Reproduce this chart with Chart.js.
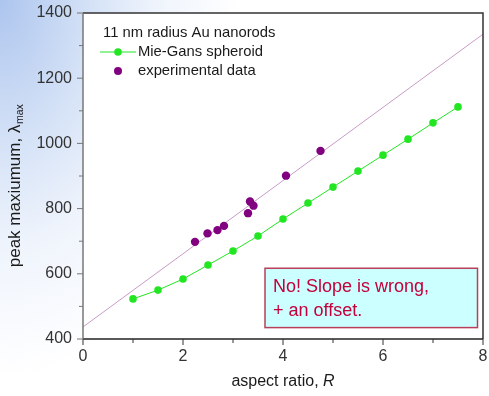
<!DOCTYPE html>
<html>
<head>
<meta charset="utf-8">
<script src="https://cdn.jsdelivr.net/npm/chart.js@4"></script>
<style>
  html,body{margin:0;padding:0;}
  body{width:489px;height:396px;overflow:hidden;
    background: radial-gradient(ellipse 240px 380px at 0px 0px, #adc5ee 0%, #d2e0f6 35%, #eff4fc 65%, #ffffff 100%);}
  canvas{display:block;}
</style>
</head>
<body>
<canvas id="c" width="489" height="396"></canvas>
<script>
// ---- data ----
const mieGansR     = [1, 1.5, 2, 2.5, 3, 3.5, 4, 4.5, 5, 5.5, 6, 6.5, 7, 7.5];
const mieGansPeak  = [523, 550, 584, 627, 670, 716, 768, 817, 866, 915, 964, 1013, 1063, 1112];
const expR         = [2.24, 2.49, 2.69, 2.82, 3.30, 3.34, 3.41, 4.06, 4.75];
const expPeak      = [698, 724, 734, 747, 786, 822, 809, 901, 977];
const fitR         = [0, 8];
const fitPeak      = [437, 1335];
const xTicks       = [0, 2, 4, 6, 8];
const yTicks       = [400, 600, 800, 1000, 1200, 1400];
const legendTitle  = '11 nm radius Au nanorods';
const legendLabels = ['Mie-Gans spheroid', 'experimental data'];
const noteLines    = ['No! Slope is wrong,', '+ an offset.'];
const noteBox      = {x0: 3.64, x1: 7.89, y0: 617, y1: 435};

const toXY = (xs, ys) => xs.map((x, i) => ({x: x, y: ys[i]}));
const GREEN = '#22e622', PURPLE = '#800080', FITC = '#c79cc7';
const FONT = 'Arial, "Liberation Sans", sans-serif';

const decor = {
  id: 'decor',
  beforeDraw(chart) {
    const {ctx, chartArea: a} = chart;
    ctx.save();
    ctx.fillStyle = '#ffffff';
    ctx.fillRect(a.left, a.top, a.right - a.left, a.bottom - a.top);
    ctx.restore();
  },
  afterDraw(chart) {
    const {ctx, chartArea: a, scales} = chart;
    const xs = scales.x, ys = scales.y;
    ctx.save();
    // frame
    ctx.lineWidth = 1.5;
    ctx.strokeStyle = '#333';
    ctx.beginPath();
    ctx.moveTo(a.left, a.top); ctx.lineTo(a.right, a.top); ctx.lineTo(a.right, a.bottom);
    ctx.stroke();
    ctx.strokeStyle = '#222';
    ctx.beginPath(); ctx.moveTo(a.left, a.bottom); ctx.lineTo(a.right, a.bottom); ctx.stroke();
    ctx.strokeStyle = '#777';
    ctx.beginPath(); ctx.moveTo(a.left, a.top); ctx.lineTo(a.left, a.bottom); ctx.stroke();
    // ticks
    ctx.lineWidth = 1;
    ctx.strokeStyle = '#333';
    for (let v = 0; v <= 8; v += 1) {
      const px = xs.getPixelForValue(v);
      const len = (v % 2 === 0) ? 6 : 4;
      ctx.beginPath(); ctx.moveTo(px, a.bottom); ctx.lineTo(px, a.bottom + len); ctx.stroke();
    }
    ctx.strokeStyle = '#777';
    for (let v = 400; v <= 1400; v += 100) {
      const py = ys.getPixelForValue(v);
      const len = (v % 200 === 0) ? 6 : 4;
      ctx.beginPath(); ctx.moveTo(a.left, py); ctx.lineTo(a.left - len, py); ctx.stroke();
    }
    // axis titles
    ctx.fillStyle = '#1a1a1a';
    ctx.textBaseline = 'alphabetic';
    ctx.textAlign = 'left';
    ctx.font = '16px ' + FONT;
    const t1 = 'aspect ratio, ';
    const w1 = ctx.measureText(t1).width;
    ctx.font = 'italic 16px ' + FONT;
    const w2 = ctx.measureText('R').width;
    const cx = (a.left + a.right) / 2;
    const sx = cx - (w1 + w2) / 2;
    ctx.font = '16px ' + FONT;
    ctx.fillText(t1, sx, 386);
    ctx.font = 'italic 16px ' + FONT;
    ctx.fillText('R', sx + w1, 386);
    // y title rotated
    ctx.save();
    ctx.translate(20, 186);
    ctx.rotate(-Math.PI / 2);
    ctx.font = '17px ' + FONT;
    const yt = 'peak maxiumum, \u03BB';
    const yw = ctx.measureText(yt).width;
    ctx.font = '10.5px ' + FONT;
    const sw = ctx.measureText('max').width;
    const y0 = -(yw + sw) / 2;
    ctx.font = '17px ' + FONT;
    ctx.fillText(yt, y0, 0);
    ctx.font = '10.5px ' + FONT;
    ctx.fillText('max', y0 + yw + 0.5, 3);
    ctx.restore();
    // legend
    ctx.font = '14.8px ' + FONT;
    ctx.fillStyle = '#1a1a1a';
    ctx.textBaseline = 'middle';
    ctx.fillText(legendTitle, a.left + 20, a.top + 20);
    ctx.fillText(legendLabels[0], a.left + 55, a.top + 39);
    ctx.fillText(legendLabels[1], a.left + 55, a.top + 58);
    ctx.strokeStyle = GREEN; ctx.lineWidth = 1.2;
    ctx.beginPath(); ctx.moveTo(a.left + 17, a.top + 39); ctx.lineTo(a.left + 53, a.top + 39); ctx.stroke();
    ctx.fillStyle = GREEN;
    ctx.beginPath(); ctx.arc(a.left + 35, a.top + 39, 3.8, 0, Math.PI * 2); ctx.fill();
    ctx.fillStyle = PURPLE;
    ctx.beginPath(); ctx.arc(a.left + 35, a.top + 58, 4, 0, Math.PI * 2); ctx.fill();
    // note box
    const bx0 = xs.getPixelForValue(noteBox.x0), bx1 = xs.getPixelForValue(noteBox.x1);
    const by0 = ys.getPixelForValue(noteBox.y0), by1 = ys.getPixelForValue(noteBox.y1);
    ctx.fillStyle = '#ccffff';
    ctx.fillRect(bx0, by0, bx1 - bx0, by1 - by0);
    ctx.strokeStyle = '#b8405a'; ctx.lineWidth = 1.5;
    ctx.strokeRect(bx0, by0, bx1 - bx0, by1 - by0);
    ctx.fillStyle = '#c4003a';
    ctx.font = '18px ' + FONT;
    ctx.textBaseline = 'alphabetic';
    ctx.fillText(noteLines[0], bx0 + 8, by0 + 24);
    ctx.fillText(noteLines[1], bx0 + 8, by0 + 48);
    ctx.restore();
  }
};

new Chart(document.getElementById('c'), {
  type: 'scatter',
  data: {
    datasets: [
      {label: 'fit', data: toXY(fitR, fitPeak), showLine: true, borderColor: FITC, borderWidth: 1,
       pointRadius: 0, fill: false, order: 3},
      {label: legendLabels[0], data: toXY(mieGansR, mieGansPeak), showLine: true, borderColor: GREEN,
       borderWidth: 1, backgroundColor: GREEN, pointBackgroundColor: GREEN, pointBorderWidth: 0,
       pointRadius: 3.8, fill: false, order: 2},
      {label: legendLabels[1], data: toXY(expR, expPeak), showLine: false, backgroundColor: PURPLE,
       pointBackgroundColor: PURPLE, pointBorderWidth: 0, pointRadius: 4.2, order: 1}
    ]
  },
  options: {
    responsive: false,
    animation: false,
    layout: {padding: {top: 13, right: 6, left: 0, bottom: 0}},
    plugins: {legend: {display: false}, tooltip: {enabled: false}},
    scales: {
      x: {
        type: 'linear', min: 0, max: 8,
        afterBuildTicks: s => { s.ticks = xTicks.map(v => ({value: v})); },
        afterFit: s => { s.height = 57; s.paddingLeft = 0; s.paddingRight = 0; },
        grid: {display: false, drawTicks: false}, border: {display: false},
        ticks: {color: '#333', padding: 8, font: {family: FONT, size: 16},
                maxRotation: 0, autoSkip: false, callback: v => String(v)}
      },
      y: {
        type: 'linear', min: 400, max: 1400,
        afterBuildTicks: s => { s.ticks = yTicks.map(v => ({value: v})); },
        afterFit: s => { s.width = 83; s.paddingTop = 0; s.paddingBottom = 0; },
        grid: {display: false, drawTicks: false}, border: {display: false},
        ticks: {color: '#333', padding: 11, font: {family: FONT, size: 16},
                autoSkip: false, callback: v => String(v)}
      }
    }
  },
  plugins: [decor]
});
</script>
</body>
</html>
